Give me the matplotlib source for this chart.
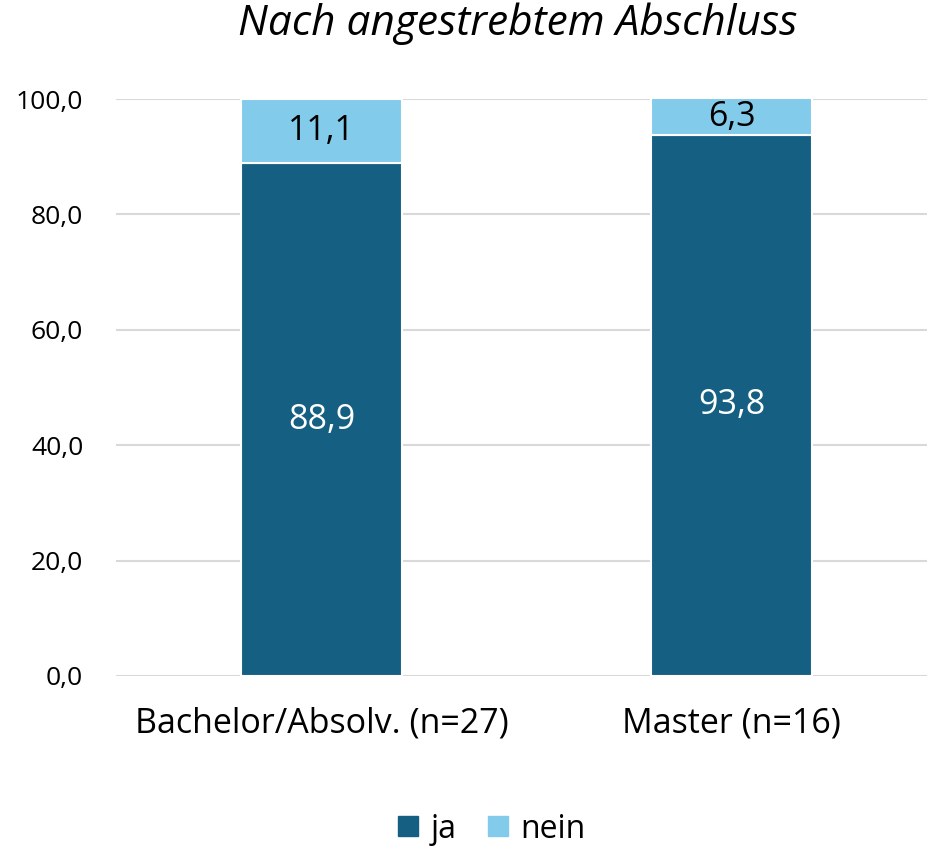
import matplotlib
matplotlib.use("Agg")
import matplotlib.pyplot as plt
from matplotlib.patches import Patch

plt.rcParams['font.family'] = ['Open Sans', 'DejaVu Sans']

categories = ["Bachelor/Absolv. (n=27)", "Master (n=16)"]
ja = [88.9, 93.8]
nein = [11.1, 6.3]
yticks = [0, 20, 40, 60, 80, 100]
title = "Nach angestrebtem Abschluss"

c_ja = "#156082"
c_nein = "#83CBEB"

fig = plt.figure(figsize=(9.27, 8.49), dpi=100)
ax = fig.add_axes([116.5/927, 1-676/849, 1-116.5/927, (676-99)/849])

x = list(range(len(categories)))
w = 0.393
ax.bar(x, ja, width=w, color=c_ja, edgecolor="white", linewidth=1.5, zorder=3)
ax.bar(x, nein, width=w, bottom=ja, color=c_nein, edgecolor="white", linewidth=1.5, zorder=3)

for i in x:
    ax.text(i, ja[i]/2, f"{ja[i]:.1f}".replace(".", ","), ha="center", va="center",
            color="white", fontsize=24.5, zorder=4)
    ax.text(i, ja[i] + nein[i]/2, f"{nein[i]:.1f}".replace(".", ","), ha="center", va="center",
            color="black", fontsize=24.5, zorder=4)

ax.set_ylim(0, 100)
ax.set_xlim(-0.5, 1.5 - 9.5/410)
ax.set_yticks(yticks)
ax.set_yticklabels([f"{v:.1f}".replace(".", ",") for v in yticks], fontsize=19)
ax.set_xticks(x)
ax.set_xticklabels(categories, fontsize=24.5)
ax.tick_params(axis="both", length=0)
ax.tick_params(axis="y", pad=24)
ax.tick_params(axis="x", pad=22)
ax.yaxis.grid(True, color="#D9D9D9", linewidth=1.5, zorder=0)
for s in ax.spines.values():
    s.set_visible(False)

fig.text(518/927, 1-24/849, title, ha="center", va="center", fontsize=30.5, style="italic")

handles = [Patch(color=c_ja, label="ja"), Patch(color=c_nein, label="nein")]
fig.legend(handles=handles, loc="center", bbox_to_anchor=(492/927, 1-829/849), ncol=2,
           frameon=False, fontsize=23, handlelength=0.6, handleheight=0.6,
           handletextpad=0.4, columnspacing=1.0)

fig.savefig("out.png", dpi=100)
